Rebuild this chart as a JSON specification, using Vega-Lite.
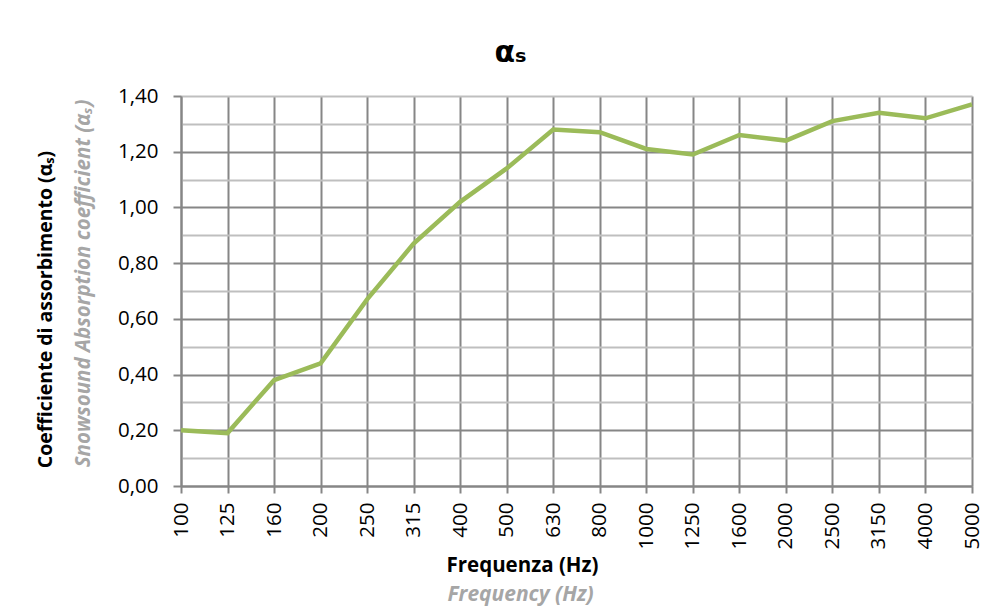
{
  "$schema": "https://vega.github.io/schema/vega-lite/v6.json",
  "width": 791,
  "height": 390,
  "autosize": {"type": "none"},
  "padding": {"left": 181, "top": 96, "right": 26, "bottom": 122},
  "background": "white",
  "title": {
    "text": "αₛ",
    "font": "DejaVu Sans",
    "fontSize": 30,
    "fontWeight": "bold",
    "color": "#000000",
    "anchor": "middle",
    "dx": -66,
    "baseline": "bottom",
    "offset": -12
  },
  "config": {
    "view": {"stroke": null},
    "font": "Open Sans"
  },
  "data": {
    "values": [
      {"freq": "100", "alpha": 0.20},
      {"freq": "125", "alpha": 0.19},
      {"freq": "160", "alpha": 0.38},
      {"freq": "200", "alpha": 0.44},
      {"freq": "250", "alpha": 0.67},
      {"freq": "315", "alpha": 0.87},
      {"freq": "400", "alpha": 1.02},
      {"freq": "500", "alpha": 1.14},
      {"freq": "630", "alpha": 1.28},
      {"freq": "800", "alpha": 1.27},
      {"freq": "1000", "alpha": 1.21},
      {"freq": "1250", "alpha": 1.19},
      {"freq": "1600", "alpha": 1.26},
      {"freq": "2000", "alpha": 1.24},
      {"freq": "2500", "alpha": 1.31},
      {"freq": "3150", "alpha": 1.34},
      {"freq": "4000", "alpha": 1.32},
      {"freq": "5000", "alpha": 1.37}
    ]
  },
  "layer": [
    {
      "mark": {"type": "line", "opacity": 0},
      "encoding": {
        "x": {
          "field": "freq",
          "type": "ordinal",
          "sort": null,
          "scale": {"type": "point", "padding": 0},
          "axis": {
            "orient": "bottom",
            "labels": false,
            "ticks": false,
            "domain": false,
            "grid": false,
            "title": "Frequency (Hz)",
            "titleFont": "Open Sans",
            "titleFontSize": 21,
            "titleFontWeight": "bold",
            "titleFontStyle": "italic",
            "titleColor": "#A6A6A6",
            "titleX": 339,
            "titleY": 108,
            "titleAlign": "center",
            "titleBaseline": "middle"
          }
        },
        "y": {
          "field": "alpha",
          "type": "quantitative",
          "scale": {"domain": [0, 1.4], "nice": false, "zero": true},
          "axis": {
            "orient": "left",
            "values": [0.1, 0.3, 0.5, 0.7, 0.9, 1.1, 1.3],
            "labels": false,
            "ticks": false,
            "domain": false,
            "grid": true,
            "gridColor": "#BFBFBF",
            "gridWidth": 2,
            "title": "Snowsound Absorption coefficient (αₛ)",
            "titleFont": "Open Sans",
            "titleFontSize": 20.5,
            "titleFontWeight": "bold",
            "titleFontStyle": "italic",
            "titleColor": "#A6A6A6",
            "titleX": -98,
            "titleY": 187,
            "titleAngle": -90,
            "titleAlign": "center",
            "titleBaseline": "middle"
          }
        }
      }
    },
    {
      "mark": {"type": "line", "color": "#9BBB59", "strokeWidth": 4.5},
      "encoding": {
        "x": {
          "field": "freq",
          "type": "ordinal",
          "sort": null,
          "scale": {"type": "point", "padding": 0},
          "axis": {
            "orient": "bottom",
            "labelAngle": -90,
            "labelFont": "Open Sans",
            "labelFontSize": 20.5,
            "labelColor": "#000000",
            "labelPadding": 9,
            "ticks": true,
            "tickSize": 7,
            "tickColor": "#868686",
            "tickWidth": 2,
            "domain": true,
            "domainColor": "#868686",
            "domainWidth": 2,
            "grid": true,
            "gridColor": "#868686",
            "gridWidth": 2,
            "title": "Frequenza (Hz)",
            "titleFont": "Open Sans",
            "titleFontSize": 20.5,
            "titleFontWeight": "bold",
            "titleColor": "#000000",
            "titleX": 341,
            "titleY": 79,
            "titleAlign": "center",
            "titleBaseline": "middle"
          }
        },
        "y": {
          "field": "alpha",
          "type": "quantitative",
          "scale": {"domain": [0, 1.4], "nice": false, "zero": true},
          "axis": {
            "orient": "left",
            "values": [0, 0.2, 0.4, 0.6, 0.8, 1.0, 1.2, 1.4],
            "labelExpr": "replace(format(datum.value, '.2f'), '.', ',')",
            "labelFont": "Open Sans",
            "labelFontSize": 20.5,
            "labelColor": "#000000",
            "labelPadding": 15,
            "ticks": true,
            "tickSize": 8,
            "tickColor": "#868686",
            "tickWidth": 2,
            "domain": true,
            "domainColor": "#868686",
            "domainWidth": 2,
            "grid": true,
            "gridColor": {"condition": {"test": "datum.value > 1.39", "value": "#BFBFBF"}, "value": "#868686"},
            "gridWidth": 2,
            "title": "Coefficiente di assorbimento (αₛ)",
            "titleFont": "Open Sans",
            "titleFontSize": 19.5,
            "titleFontWeight": "bold",
            "titleColor": "#000000",
            "titleX": -136,
            "titleY": 213,
            "titleAngle": -90,
            "titleAlign": "center",
            "titleBaseline": "middle"
          }
        }
      }
    }
  ],
  "resolve": {"axis": {"x": "independent", "y": "independent"}}
}
